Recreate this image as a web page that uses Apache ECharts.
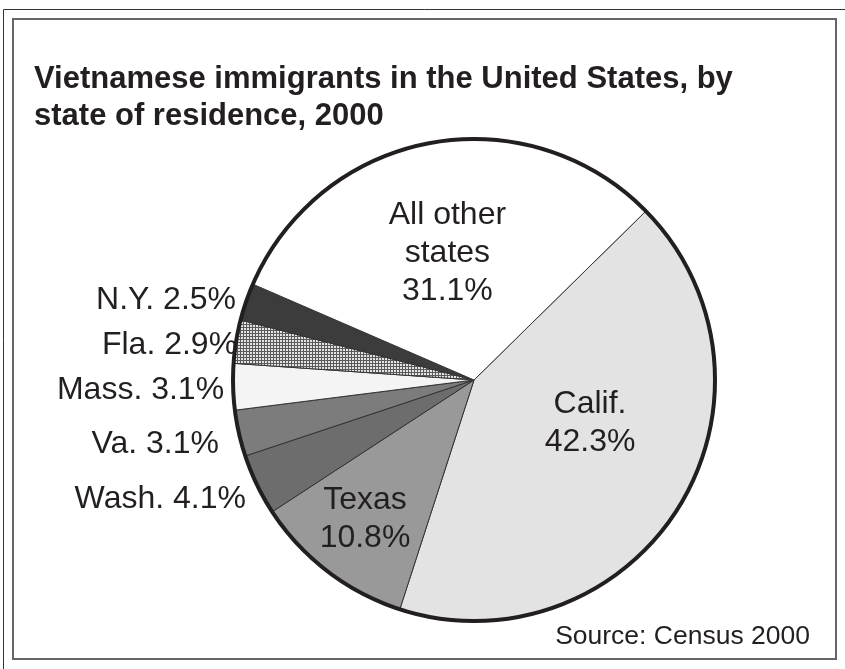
<!DOCTYPE html>
<html>
<head>
<meta charset="utf-8">
<script src="https://cdn.jsdelivr.net/npm/echarts@6/dist/echarts.min.js"></script>
<style>
html,body{margin:0;padding:0;background:#fff;}
#chart{width:845px;height:669px;}
</style>
</head>
<body>
<div id="chart"></div>
<script>
// ---- data ----
const categories = ['Calif.', 'Texas', 'Wash.', 'Va.', 'Mass.', 'Fla.', 'N.Y.', 'All other\nstates'];
const shares = [42.3, 10.8, 4.1, 3.1, 3.1, 2.9, 2.5, 31.1];
const titleText = 'Vietnamese immigrants in the United States, by\nstate of residence, 2000';
const sourceText = 'Source: Census 2000';

// ---- styles ----
function checkPattern() {
  const c = document.createElement('canvas');
  c.width = 3; c.height = 3;
  const g = c.getContext('2d');
  g.fillStyle = '#e4e4e4';
  g.fillRect(0, 0, 3, 3);
  g.fillStyle = '#5a5a5a';
  g.fillRect(0, 0, 3, 1);
  g.fillRect(0, 0, 1, 3);
  return c;
}
const fills = ['#e3e3e3', '#999999', '#6d6d6d', '#7c7c7c', '#f4f4f4',
  { image: checkPattern(), repeat: 'repeat' }, '#3c3c3c', '#ffffff'];
const insideKeys = { 0: [11, -22], 1: [-34, 41], 7: [-4, -5] };
const outsideOffsets = { 2: [-6, 14], 3: [-15, 11], 4: [-4, 3], 5: [6, 4], 6: [-5, -2] };

const FONT = '"Liberation Sans", Arial, sans-serif';
const TXT = '#231f20';

const pieData = categories.map((name, i) => {
  const item = { name: name, value: shares[i], itemStyle: { color: fills[i] } };
  if (insideKeys[i]) {
    item.label = { position: 'inside', offset: insideKeys[i], align: 'center', lineHeight: 38 };
  } else {
    item.label = { position: 'outside', offset: outsideOffsets[i] };
  }
  return item;
});

const chart = echarts.init(document.getElementById('chart'), null, { renderer: 'canvas' });
chart.setOption({
  backgroundColor: '#ffffff',
  animation: false,
  title: [
    {
      text: titleText,
      left: 29, top: 56,
      textStyle: { fontFamily: FONT, fontSize: 31, fontWeight: 'bold', color: TXT, lineHeight: 37 }
    },
    {
      text: sourceText,
      right: 30, bottom: 14,
      textStyle: { fontFamily: FONT, fontSize: 26.5, fontWeight: 'normal', color: TXT }
    }
  ],
  graphic: [
    { type: 'rect', shape: { x: 3.5, y: 9.5, width: 850, height: 680 }, style: { fill: 'none', stroke: '#333', lineWidth: 1 }, silent: true },
    { type: 'rect', shape: { x: 13, y: 19, width: 823, height: 640 }, style: { fill: 'none', stroke: '#666', lineWidth: 2 }, silent: true }
  ],
  series: [
    {
      type: 'pie',
      center: [474, 380],
      radius: [0, 241],
      startAngle: 44.5,
      clockwise: true,
      avoidLabelOverlap: false,
      itemStyle: { borderColor: '#333', borderWidth: 1 },
      label: {
        show: true,
        fontFamily: FONT,
        fontSize: 32,
        color: TXT,
        formatter: p => p.dataIndex in insideKeys ? p.name + '\n' + p.value + '%' : p.name + ' ' + p.value + '%'
      },
      labelLine: { show: false, length: 0, length2: 0 },
      emphasis: { disabled: true },
      data: pieData
    },
    {
      type: 'pie',
      silent: true,
      center: [474, 380],
      radius: [0, 241],
      label: { show: false },
      labelLine: { show: false },
      itemStyle: { color: 'rgba(0,0,0,0)', borderColor: '#231f20', borderWidth: 4 },
      emphasis: { disabled: true },
      data: [{ name: 'outline', value: 1 }]
    }
  ]
});
</script>
</body>
</html>
